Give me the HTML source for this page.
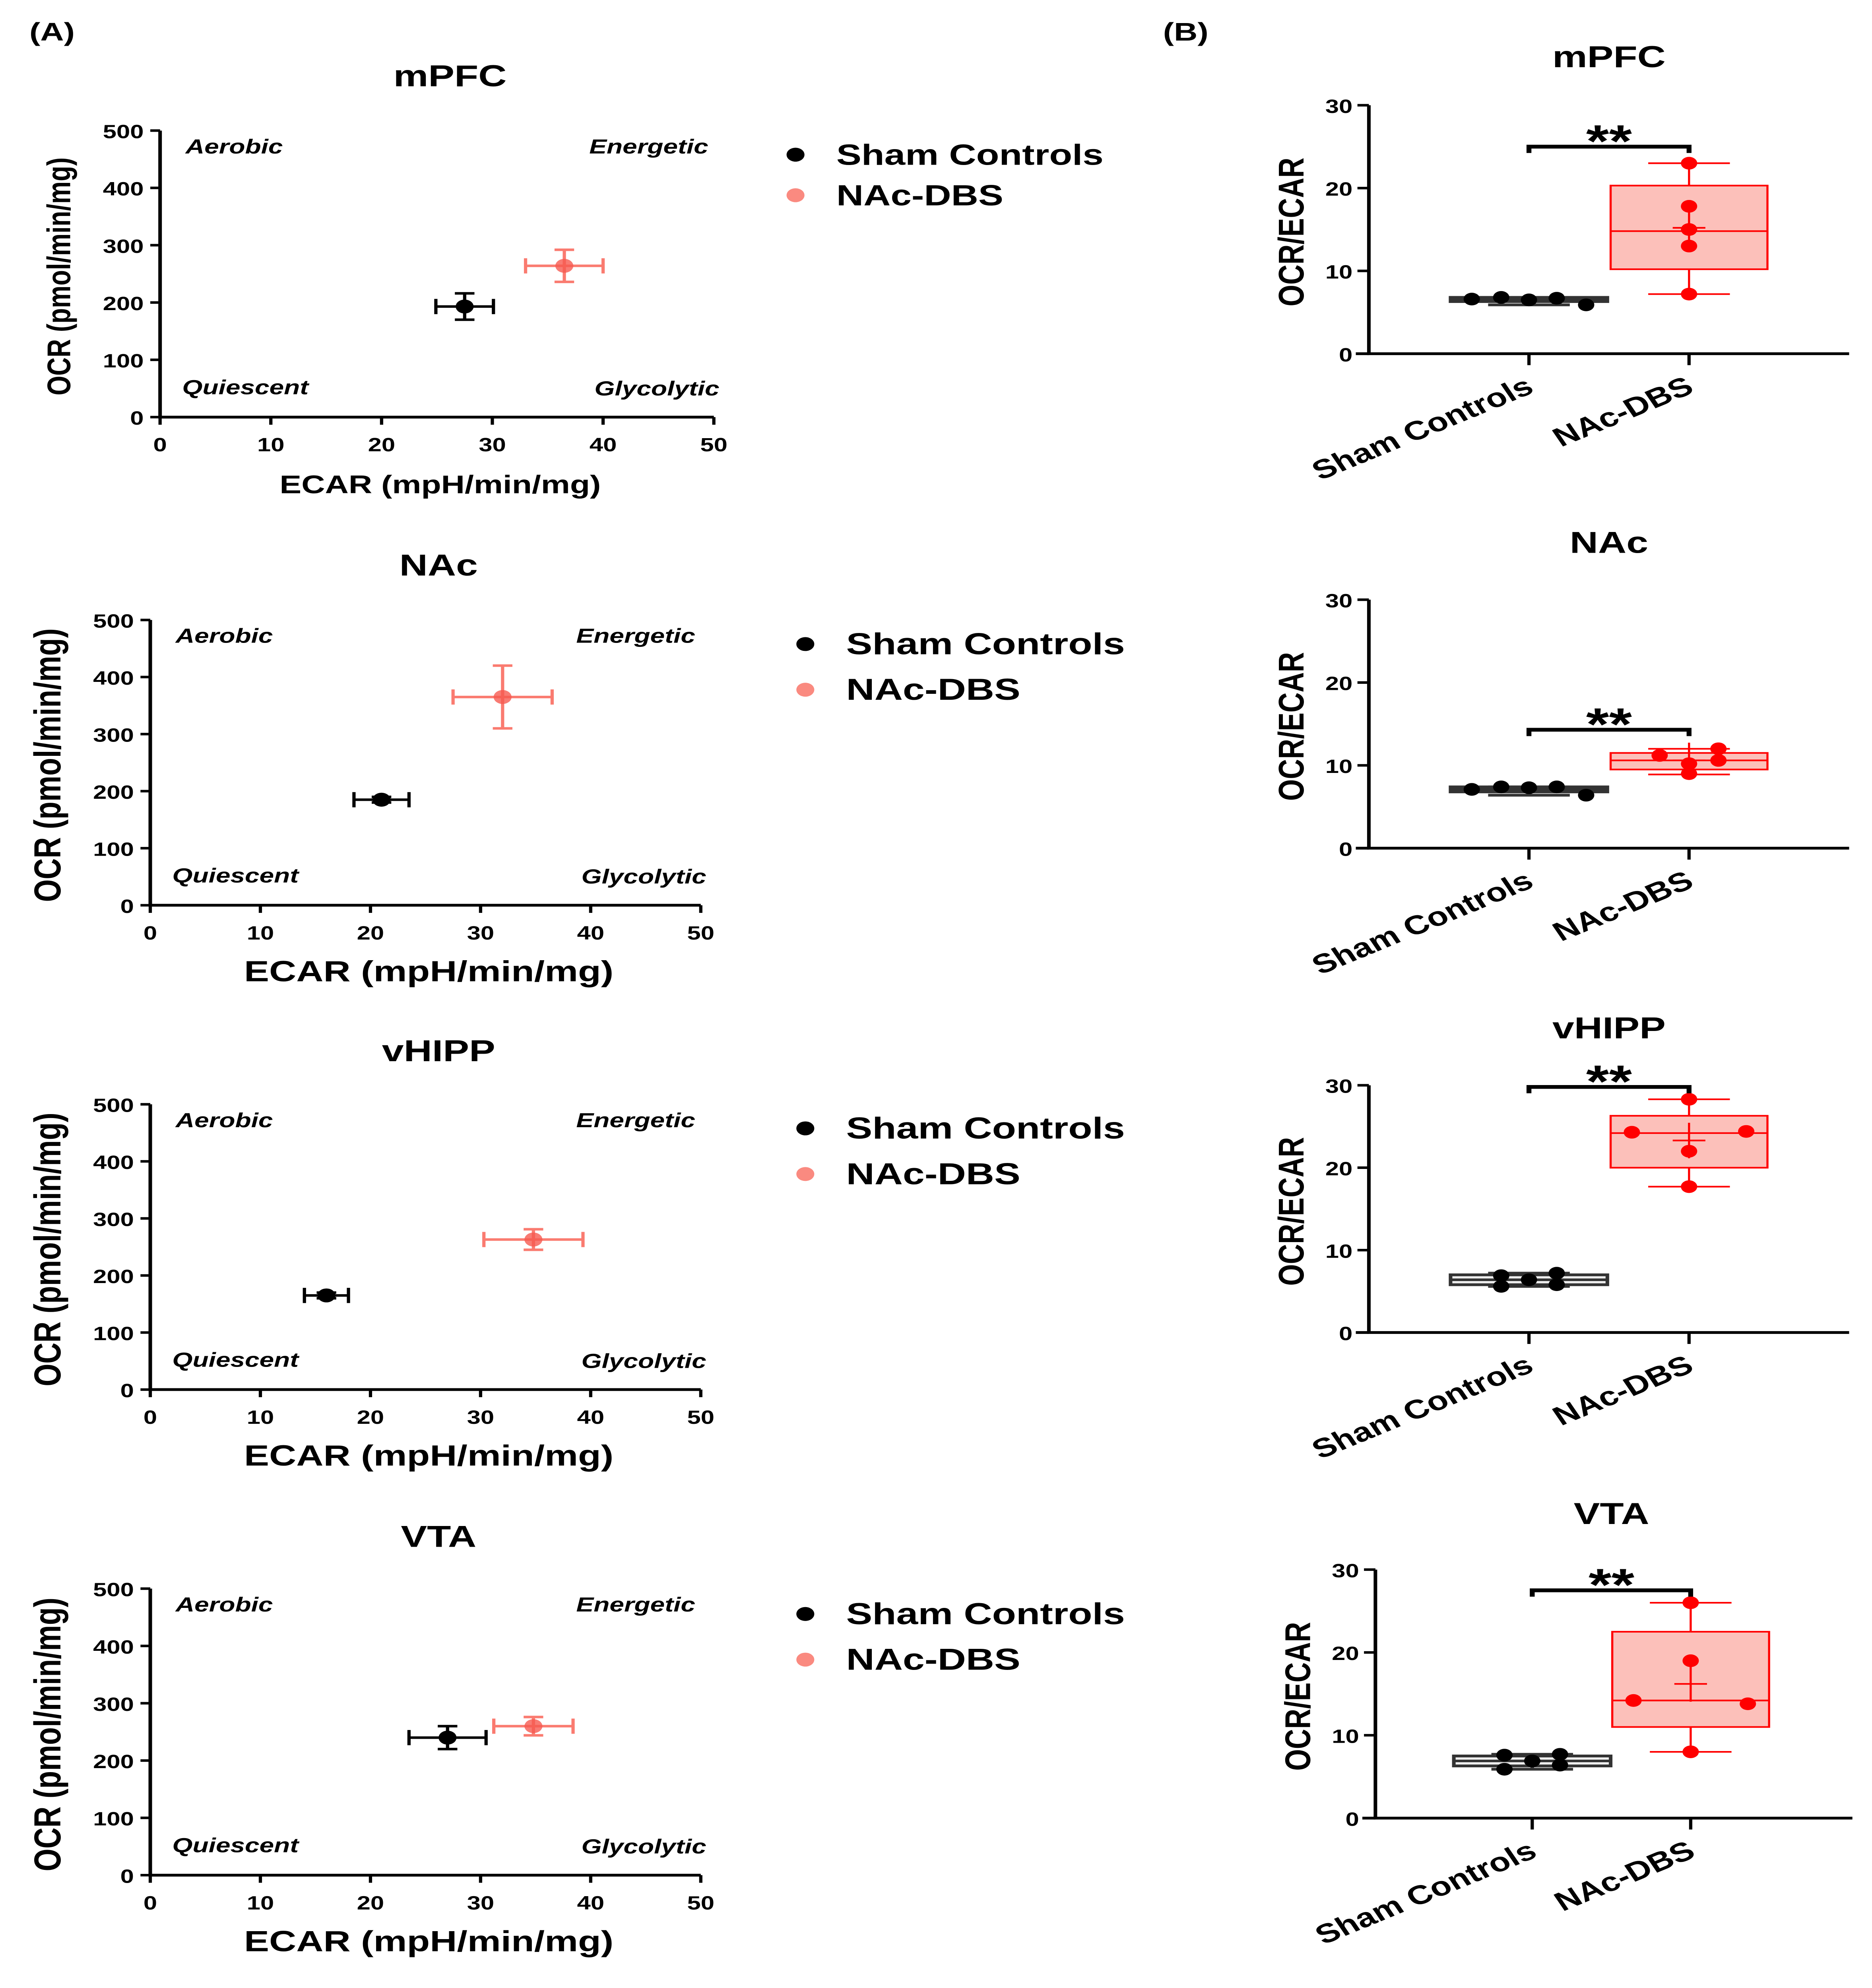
<!DOCTYPE html>
<html><head><meta charset="utf-8">
<style>
html,body{margin:0;padding:0;background:#fff;width:100%;height:100%;overflow:hidden;}
svg{display:block;position:fixed;left:0;top:0;width:100vw;height:100vh;}
text{font-family:"Liberation Sans",Arial,sans-serif;font-weight:bold;}
</style></head>
<body>
<svg id="fig" xmlns="http://www.w3.org/2000/svg" viewBox="0 0 1146 1568" preserveAspectRatio="none">
<rect x="0" y="0" width="1146" height="1568" fill="#fff"/>
<text x="18" y="32" font-size="20">(A)</text>
<text x="712" y="32" font-size="20">(B)</text>
</svg>
<script>
// ---------- Panel A data (scatter with error bars) ----------
const regions = ["mPFC", "NAc", "vHIPP", "VTA"];
const ecarTicks = [0, 10, 20, 30, 40, 50];
const ocrTicks = [0, 100, 200, 300, 400, 500];
const shamEcar = [27.5, 21, 16, 27];
const shamEcarErr = [2.6, 2.5, 2, 3.5];
const shamOcr = [193, 185, 165, 240];
const shamOcrErr = [23, 5, 5, 20];
const dbsEcar = [36.5, 32, 34.8, 34.8];
const dbsEcarErr = [3.5, 4.5, 4.5, 3.6];
const dbsOcr = [264, 365, 263, 260];
const dbsOcrErr = [28, 55, 18, 16];
const quadrantLabels = ["Aerobic", "Energetic", "Quiescent", "Glycolytic"];
const legendLabels = ["Sham Controls", "NAc-DBS"];

// ---------- Panel B data (box plots) ----------
const groups = ["Sham Controls", "NAc-DBS"];
const ratioTicks = [0, 10, 20, 30];
const shamPoints = [[6.6, 6.8, 6.5, 6.7, 5.9],[7.1, 7.4, 7.3, 7.4, 6.4],[6.9, 5.6, 6.4, 7.2, 5.8],[7.6, 5.9, 6.9, 7.7, 6.4]];
const dbsPoints = [[23, 17.8, 15, 13, 7.2],[11.2, 10.2, 9, 12, 10.6],[28.3, 24.3, 22, 24.4, 17.7],[26, 19, 14.2, 13.8, 8]];
const shamBox = [[5.9, 6.3, 6.5, 6.8, 6.8],[6.4, 6.8, 7.1, 7.4, 7.4],[5.6, 5.8, 6.4, 7.0, 7.2],[5.9, 6.3, 6.9, 7.5, 7.7]];
const dbsBox = [[7.2, 10.2, 14.8, 20.3, 23],[8.9, 9.5, 10.6, 11.5, 12],[17.7, 20, 24.2, 26.3, 28.3],[8, 11, 14.2, 22.5, 26]];
const dbsMean = [15.2, 10.6, 23.3, 16.2];
const sigLevel = [25, 14.3, 29.8, 27.5];
const sigText = ["**", "**", "**", "**"];

const NS = "http://www.w3.org/2000/svg";
const svg = document.getElementById("fig");
function mk(tag, attrs, parent) {
  const e = document.createElementNS(NS, tag);
  for (const k in attrs) e.setAttribute(k, attrs[k]);
  (parent || svg).appendChild(e);
  return e;
}
function txt(x, y, s, size, attrs, parent) {
  const t = mk("text", Object.assign({x: x, y: y, "font-size": size}, attrs || {}), parent);
  t.textContent = s;
  return t;
}

const A = [
  {x0: 98, x1: 437, y0: 329, y1: 103, ty: 60, lx: 487, ly: 122, lgap: 32, lfs: 23, axfs: 20},
  {x0: 92, x1: 429, y0: 714, y1: 489, ty: 446, lx: 493, ly: 508, lgap: 36, lfs: 24, axfs: 23},
  {x0: 92, x1: 429, y0: 1096, y1: 871, ty: 829, lx: 493, ly: 890, lgap: 36, lfs: 24, axfs: 23},
  {x0: 92, x1: 429, y0: 1479, y1: 1253, ty: 1212, lx: 493, ly: 1273, lgap: 36, lfs: 24, axfs: 23}
];

regions.forEach((r, i) => {
  const L = A[i];
  const g = mk("g", {});
  
  
  const sx = v => L.x0 + v / 50 * (L.x1 - L.x0);
  const sy = v => L.y0 - v / 500 * (L.y0 - L.y1);
  const t = txt((L.x0 + L.x1) / 2 + 8, L.ty + 8, r, 24, {"text-anchor": "middle"}, g);
  
  
  const ax = mk("path", {d: `M${L.x0} ${L.y1} V${L.y0} H${L.x1}`, stroke: "#000", "stroke-width": 2.2, fill: "none"}, g);
  
  
  ecarTicks.forEach(v => {
    mk("line", {x1: sx(v), x2: sx(v), y1: L.y0, y2: L.y0 + 6, stroke: "#000", "stroke-width": 2}, g);
    const tl = txt(sx(v), L.y0 + 27, String(v), 15, {"text-anchor": "middle"}, g);
    
    
  });
  ocrTicks.forEach(v => {
    mk("line", {x1: L.x0 - 6, x2: L.x0, y1: sy(v), y2: sy(v), stroke: "#000", "stroke-width": 2}, g);
    const tl = txt(L.x0 - 10, sy(v) + 6, String(v), 15, {"text-anchor": "end"}, g);
    
    
  });
  const xt = txt((L.x0 + L.x1) / 2 + 2, L.y0 + 60, "ECAR  (mpH/min/mg)", L.axfs, {"text-anchor": "middle"}, g);
  
  
  const yc = (L.y0 + L.y1) / 2;
  const yt = txt(0, 0, "OCR (pmol/min/mg)", L.axfs, {"text-anchor": "middle", transform: `translate(${L.x0 - 55},${yc + 2}) rotate(-90)`}, g);
  
  
  const qpos = [[sx(2.3), sy(460), "start"], [sx(49.5), sy(460), "end"], [sx(2), sy(40), "start"], [sx(50.5), sy(38), "end"]];
  quadrantLabels.forEach((q, k) => {
    const ql = txt(qpos[k][0], qpos[k][1], q, 16, {"text-anchor": qpos[k][2], "font-style": "italic"}, g);
    
    
  });
  const series = [
    {x: shamEcar[i], xe: shamEcarErr[i], y: shamOcr[i], ye: shamOcrErr[i], c: "#000", n: "sham"},
    {x: dbsEcar[i], xe: dbsEcarErr[i], y: dbsOcr[i], ye: dbsOcrErr[i], c: "#fa7b70", n: "dbs"}
  ];
  series.forEach(s => {
    const sg = mk("g", {}, g);
    
    
    const cx = sx(s.x), cy = sy(s.y);
    const xa = sx(s.x - s.xe), xb = sx(s.x + s.xe), ya = sy(s.y - s.ye), yb = sy(s.y + s.ye);
    mk("path", {d: `M${xa} ${cy}H${xb}M${xa} ${cy - 6}V${cy + 6}M${xb} ${cy - 6}V${cy + 6}M${cx} ${ya}V${yb}M${cx - 6} ${ya}H${cx + 6}M${cx - 6} ${yb}H${cx + 6}`, stroke: s.c, "stroke-width": 2, fill: "none"}, sg);
    mk("circle", {cx: cx, cy: cy, r: 5.5, fill: s.n === "dbs" ? "#f65a50" : "#000", "fill-opacity": s.n === "dbs" ? 0.8 : 1}, sg);
  });
  legendLabels.forEach((lab, k) => {
    const lg = mk("g", {}, g);
    
    
    mk("circle", {cx: L.lx, cy: L.ly + k * L.lgap, r: 5.5, fill: k === 0 ? "#000" : "#fa8a80"}, lg);
    txt(L.lx + 25, L.ly + k * L.lgap + 8, lab, L.lfs, {}, lg);
  });
});

const B = [
  {ax: 838, y0: 279, y1: 83, c1: 936, c2: 1034, xe: 1132, ty: 45},
  {ax: 838, y0: 669, y1: 473, c1: 936, c2: 1034, xe: 1132, ty: 428},
  {ax: 838, y0: 1051, y1: 856, c1: 936, c2: 1034, xe: 1132, ty: 811},
  {ax: 842, y0: 1434, y1: 1238, c1: 938, c2: 1035, xe: 1134, ty: 1194}
];
const jDbsX = [[0, 0, 0, 0, 0], [-18, 0, 0, 18, 18], [0, -35, 0, 35, 0], [0, 0, -35, 35, 0]];
const jShamB = [[-35, -17, 0, 17, 35], [-35, -17, 0, 17, 35], [-17, -17, 0, 17, 17], [-17, -17, 0, 17, 17]];

regions.forEach((r, i) => {
  const L = B[i];
  const g = mk("g", {});
  
  
  const sy = v => L.y0 - v / 30 * (L.y0 - L.y1);
  const t = txt((L.c1 + L.c2) / 2, L.ty + 8, r, 24, {"text-anchor": "middle"}, g);
  
  
  const ax = mk("path", {d: `M${L.ax} ${L.y1} V${L.y0} H${L.xe}`, stroke: "#000", "stroke-width": 2.2, fill: "none"}, g);
  
  
  mk("line", {x1: L.ax - 8, x2: L.ax, y1: L.y0, y2: L.y0, stroke: "#000", "stroke-width": 2.2}, g);
  ratioTicks.forEach(v => {
    mk("line", {x1: L.ax - 7, x2: L.ax, y1: sy(v), y2: sy(v), stroke: "#000", "stroke-width": 2}, g);
    const tl = txt(L.ax - 10, sy(v) + 6, String(v), 15, {"text-anchor": "end"}, g);
    
    
  });
  [L.c1, L.c2].forEach(c => mk("line", {x1: c, x2: c, y1: L.y0, y2: L.y0 + 9, stroke: "#000", "stroke-width": 2}, g));
  const yt = txt(0, 0, "OCR/ECAR", 22, {"text-anchor": "middle", transform: `translate(${L.ax - 40},${(L.y0 + L.y1) / 2 + 2}) rotate(-90)`}, g);
  
  
  groups.forEach((gname, k) => {
    const c = k === 0 ? L.c1 : L.c2;
    const cl = txt(0, 0, gname, 21, {"text-anchor": "end", transform: `translate(${c + 4},${L.y0 + 30}) rotate(-28)`}, g);
    
    
  });
  const hw = 48;
  const sb = shamBox[i];
  const shg = mk("g", {}, g);
  
  
  mk("path", {d: `M${L.c1} ${sy(sb[0])}V${sy(sb[1])}M${L.c1} ${sy(sb[3])}V${sy(sb[4])}M${L.c1 - 25} ${sy(sb[0])}H${L.c1 + 25}M${L.c1 - 25} ${sy(sb[4])}H${L.c1 + 25}`, stroke: "#333", "stroke-width": 2.2, fill: "none"}, shg);
  mk("rect", {x: L.c1 - hw, y: sy(sb[3]), width: 2 * hw, height: Math.max(1, sy(sb[1]) - sy(sb[3])), fill: "#eee", stroke: "#333", "stroke-width": 2.2}, shg);
  mk("line", {x1: L.c1 - hw, x2: L.c1 + hw, y1: sy(sb[2]), y2: sy(sb[2]), stroke: "#333", "stroke-width": 2}, shg);
  shamPoints[i].forEach((v, k) => {
    const p = mk("circle", {cx: L.c1 + jShamB[i][k], cy: sy(v), r: 5, fill: "#000"}, shg);
    
    
  });
  const db = dbsBox[i];
  const dg = mk("g", {}, g);
  
  
  mk("path", {d: `M${L.c2} ${sy(db[0])}V${sy(db[1])}M${L.c2} ${sy(db[3])}V${sy(db[4])}M${L.c2 - 25} ${sy(db[0])}H${L.c2 + 25}M${L.c2 - 25} ${sy(db[4])}H${L.c2 + 25}`, stroke: "#f00", "stroke-width": 1.3, fill: "none"}, dg);
  mk("rect", {x: L.c2 - hw, y: sy(db[3]), width: 2 * hw, height: sy(db[1]) - sy(db[3]), fill: "#fcc0ba", stroke: "#f00", "stroke-width": 1.3}, dg);
  mk("line", {x1: L.c2 - hw, x2: L.c2 + hw, y1: sy(db[2]), y2: sy(db[2]), stroke: "#f00", "stroke-width": 1.3}, dg);
  const m = sy(dbsMean[i]);
  mk("path", {d: `M${L.c2 - 10} ${m}H${L.c2 + 10}M${L.c2} ${m - 14}V${m + 14}`, stroke: "#f00", "stroke-width": 1.3, fill: "none"}, dg);
  dbsPoints[i].forEach((v, k) => {
    const p = mk("circle", {cx: L.c2 + jDbsX[i][k], cy: sy(v), r: 5, fill: "#f00"}, dg);
    
    
  });
  const sgg = mk("g", {}, g);
  
  
  const by = sy(sigLevel[i]);
  mk("path", {d: `M${L.c1} ${by + 5}V${by}H${L.c2}V${by + 5}`, stroke: "#000", "stroke-width": 3, fill: "none"}, sgg);
  txt((L.c1 + L.c2) / 2, by + 8, sigText[i], 36, {"text-anchor": "middle"}, sgg);
});
</script>
</body></html>
